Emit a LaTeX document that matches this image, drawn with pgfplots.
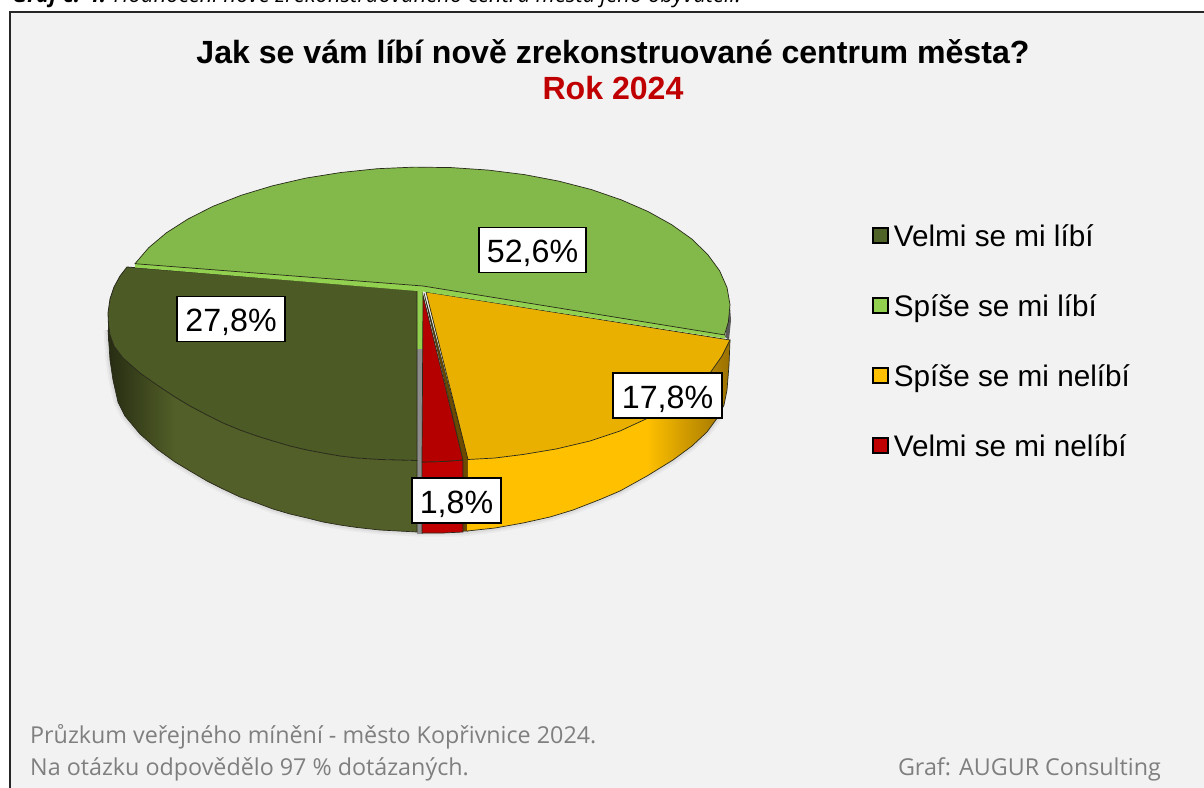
\documentclass[border=0pt]{standalone}
\usepackage{pgfplots}
\pgfplotsset{compat=1.18}
\usepackage{fontspec}
\setmainfont{Liberation Sans}
\newfontfamily\foot{Open Sans}
\definecolor{bg}{HTML}{F2F2F2}
\definecolor{gtop}{HTML}{82B94A}
\definecolor{glight}{HTML}{92D050}
\definecolor{otop}{HTML}{4C5A26}
\definecolor{oside}{HTML}{525F28}
\definecolor{odark}{HTML}{262C12}
\definecolor{olive}{HTML}{4F6228}
\definecolor{ytop}{HTML}{EAB000}
\definecolor{yside}{HTML}{FFC000}
\definecolor{ydark}{HTML}{9A7000}
\definecolor{rtop}{HTML}{B50000}
\definecolor{rside}{HTML}{C00000}
\definecolor{brn}{HTML}{6B4A00}
\definecolor{edge}{HTML}{2A2A1A}
\definecolor{titlered}{HTML}{C00000}
\definecolor{footg}{HTML}{7F7F7F}
\begin{document}
\begin{tikzpicture}[x=1pt,y=1pt]
\path[use as bounding box] (0,0) rectangle (1204,787);
\clip (0,0) rectangle (1204,787);
\begin{axis}[
  at={(0,0)},anchor=south west,scale only axis,width=1204pt,height=787pt,
  xmin=0,xmax=1204,ymin=0,ymax=787,y dir=reverse,axis lines=none,clip=false,
  legend style={draw=none,fill=none,at={(axis cs:872,224)},anchor=north west,
    font=\fontsize{29.7}{32}\selectfont,row sep=46pt,inner sep=0pt,inner xsep=0pt,
    nodes={inner sep=0pt}},
  legend cell align=left,
  legend image code/.code={\draw[#1,line width=1.4pt] (0pt,-7pt) rectangle (15pt,8pt);\path[draw=none,fill=none] (0pt,0pt) -- (21pt,0pt);},
]
% frame
\addplot[forget plot,draw=none,fill=bg] coordinates {(9,11)(1210,11)(1210,800)(9,800)} --cycle;
\addplot[forget plot,draw=black!85,line width=2pt] coordinates {(9.5,800)(9.5,11.5)(1210,11.5)};

% soft shadow of the pie
\addplot[forget plot,gray,line width=9pt,opacity=.07,line join=round] coordinates {(108,330)(110,360)(113,380)(118,402)(125,416)(140,434)(157,449)(175,462)(190,471)(207,481)(223,489)(240,497)(257,503)(273,509)(290,514)(307,518)(323,522)(340,525)(357,527.5)(380,530)(417,532)(463,532)(495,528)(523,523)(550,517)(573,510)(600,499.5)(620,491)(647,476)(673,460)(692,446)(707,432)(718,417)};
\addplot[forget plot,gray,line width=5pt,opacity=.12,line join=round] coordinates {(108,330)(110,360)(113,380)(118,402)(125,416)(140,434)(157,449)(175,462)(190,471)(207,481)(223,489)(240,497)(257,503)(273,509)(290,514)(307,518)(323,522)(340,525)(357,527.5)(380,530)(417,532)(463,532)(495,528)(523,523)(550,517)(573,510)(600,499.5)(620,491)(647,476)(673,460)(692,446)(707,432)(718,417)};

% gray gap and inner walls
\addplot[forget plot,draw=none,fill=black!45] coordinates {(417,345)(423,345)(423,534)(417,534)} --cycle;
\addplot[forget plot,draw=none,fill=glight] coordinates {(417,289)(423,289)(423,349)(417,349)} --cycle;

% side of green, right
\addplot[forget plot,draw=none,fill=black!65] coordinates {(730,307)(731,320)(729,340)(725,337)} --cycle;

% Velmi se mi líbí: side
\addplot[forget plot,draw=none,left color=odark,right color=oside] coordinates {(108,313)(108.5,325)(110,335)(114,346)(123,358)(140,373)(157,385)(175,397)(175,462)(157,449)(140,434)(125,416)(118,402)(113,380)(110,360)(108,330)} --cycle;
\addplot[forget plot,draw=none,fill=oside] coordinates {(175,397)(190,406)(207,415)(223,423)(240,430)(257,436)(273,441)(290,446)(307,450)(323,453)(340,456)(357,458)(380,459.5)(417,460.5)(417,532)(380,530)(357,527.5)(340,525)(323,522)(307,518)(290,514)(273,509)(257,503)(240,497)(223,489)(207,481)(190,471)(175,462)} --cycle;
\addplot[forget plot,edge,line width=.7pt] coordinates {(108,330)(110,360)(113,380)(118,402)(125,416)(140,434)(157,449)(175,462)(190,471)(207,481)(223,489)(240,497)(257,503)(273,509)(290,514)(307,518)(323,522)(340,525)(357,527.5)(380,530)(417,532)(417,460)};
% Velmi se mi líbí: top
\addplot[forget plot,draw=edge,line width=.8pt,fill=otop] coordinates {(127,267)(417,290)(417,460.5)(380,459.5)(357,458)(340,456)(323,453)(307,450)(290,446)(273,441)(257,436)(240,430)(223,423)(207,415)(190,406)(175,397)(157,385)(140,373)(123,358)(114,346)(110,335)(108.5,325)(108,313)(110,299)(114,287)(120,276)} --cycle;

% Velmi se mi nelíbí
\addplot[forget plot,draw=edge,line width=.7pt,fill=rside] coordinates {(422,462)(443,461.5)(463,460)(463,532)(443,533)(422,533)} --cycle;
\addplot[forget plot,draw=edge,line width=.7pt,fill=rtop] coordinates {(423,295)(463,460)(443,461.5)(422,462)} --cycle;

% Spíše se mi nelíbí: inner wall, side, top
\addplot[forget plot,draw=edge,line width=.5pt,fill=brn] coordinates {(424,293)(468,458)(468,531)(463,531)(463,460)} --cycle;
\addplot[forget plot,draw=none,fill=yside] coordinates {(468,459.5)(495,458)(523,454.5)(556,449)(590,441)(620,431)(647,418.5)(647,476)(620,491)(600,499.5)(573,510)(550,517)(523,523)(495,528)(467,531)} --cycle;
\addplot[forget plot,draw=none,left color=yside,right color=ydark] coordinates {(647,418.5)(670,405)(690,391)(710,373)(722,356)(730,340)(729,365)(727,390)(724,405)(718,417)(707,432)(692,446)(673,460)(647,476)} --cycle;
\addplot[forget plot,edge,line width=.7pt] coordinates {(467,531)(495,528)(523,523)(550,517)(573,510)(600,499.5)(620,491)(647,476)(673,460)(692,446)(707,432)(718,417)(724,405)(727,390)(729,365)(730,340)};
\addplot[forget plot,draw=edge,line width=.7pt,fill=ytop] coordinates {(426,292)(730,340)(722,356)(710,373)(690,391)(670,405)(647,418.5)(620,431)(590,441)(556,449)(523,454.5)(495,458)(468,459.5)} --cycle;

% Spíše se mi líbí: light strip and top
\addplot[forget plot,draw=none,fill=glight] coordinates {(135,263)(423,286)(725,334)(725,338.5)(423,291.5)(135,267.5)} --cycle;
\addplot[forget plot,draw=edge,line width=.7pt,fill=gtop] coordinates {(135,263.7)(148.6,247.8)(166.4,232.8)(188,219)(213,206.3)(241.4,195.2)(272.5,185.8)(305.8,178.1)(340.9,172.5)(377.4,168.7)(414.4,167.1)(451.5,167.6)(488.4,170.1)(524.4,174.6)(558.6,181.1)(591.2,189.5)(621.1,199.8)(648,211.5)(671.7,224.7)(691.9,239.1)(707.7,254.5)(719.6,270.7)(727,287.5)(730,304.6)(728.4,321.7)(724.5,334.9)(423,286)} --cycle;

% legend
\addlegendimage{fill=olive,draw=black}\addlegendentry{\strut Velmi se mi líbí}
\addlegendimage{fill=glight,draw=black}\addlegendentry{\strut Spíše se mi líbí}
\addlegendimage{fill=yside,draw=black}\addlegendentry{\strut Spíše se mi nelíbí}
\addlegendimage{fill=rside,draw=black}\addlegendentry{\strut Velmi se mi nelíbí}

% data labels
\tikzset{lab/.style={draw=black,line width=1.5pt,fill=white,inner sep=0pt,minimum height=45pt,font=\fontsize{32.2}{34}\selectfont,text height=29pt,text depth=4pt}}
\node[lab,minimum width=107pt] at (axis cs:532.5,250) {52,6\%};
\node[lab,minimum width=108pt] at (axis cs:231,319) {27,8\%};
\node[lab,minimum width=109pt] at (axis cs:667.5,395.5) {17,8\%};
\node[lab,minimum width=89pt] at (axis cs:456.5,500.5) {1,8\%};

% titles
\node[font=\bfseries\fontsize{32.1}{34}\selectfont,anchor=base] at (axis cs:613,63) {Jak se vám líbí nově zrekonstruované centrum města?};
\node[font=\bfseries\fontsize{32.1}{34}\selectfont,anchor=base,text=titlered] at (axis cs:613,99) {Rok 2024};
% caption above frame
\node[font=\foot\itshape\fontsize{22}{24}\selectfont,anchor=base west,inner sep=0pt] at (axis cs:12,2.5) {\textbf{Graf č. 4:} Hodnocení nově zrekonstruovaného centra města jeho obyvateli.};
% footer
\node[font=\foot\fontsize{23.3}{24}\selectfont,anchor=base west,inner sep=0pt,text=footg] at (axis cs:30,743) {Průzkum veřejného mínění - město Kopřivnice 2024.};
\node[font=\foot\fontsize{23.3}{24}\selectfont,anchor=base west,inner sep=0pt,text=footg] at (axis cs:30,775) {Na otázku odpovědělo 97 \% dotázaných.};
\node[font=\foot\fontsize{23.3}{24}\selectfont,anchor=base east,inner sep=0pt,text=footg] at (axis cs:1161,775) {Graf: AUGUR Consulting};
\end{axis}
\end{tikzpicture}
\end{document}
